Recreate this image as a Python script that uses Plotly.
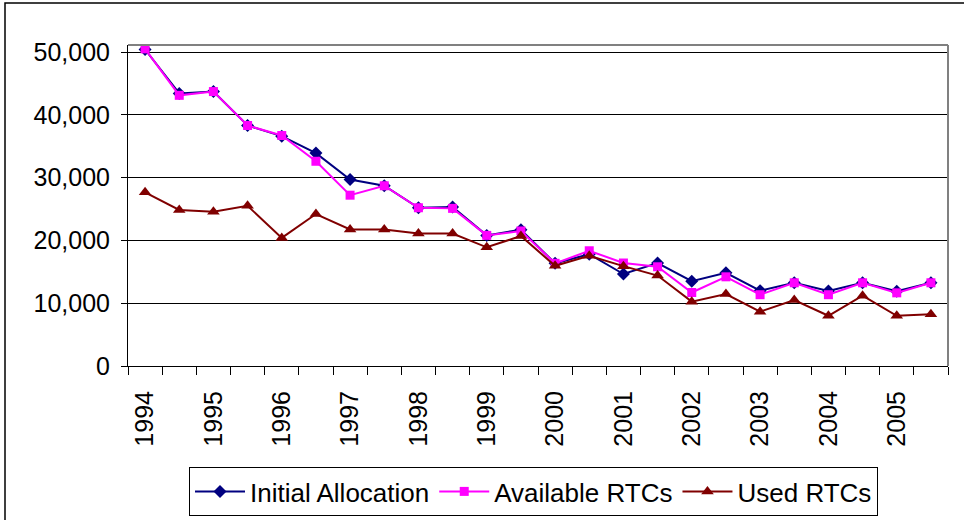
import plotly.graph_objects as go

# Half-year periods 1994 .. 2005 (two points per year)
periods = list(range(24))
year_labels = ["1994", "1995", "1996", "1997", "1998", "1999",
               "2000", "2001", "2002", "2003", "2004", "2005"]

initial_allocation = [50400, 43400, 43700, 38300, 36600, 33900, 29700, 28700,
                      25200, 25300, 20800, 21700, 16350, 17800, 14650, 16400,
                      13500, 14850, 12000, 13250, 11950, 13250, 11900, 13250]
available_rtcs = [50500, 43100, 43700, 38300, 36700, 32600, 27200, 28700,
                  25200, 25100, 20800, 21500, 16350, 18350, 16400, 15800,
                  11700, 14200, 11350, 13250, 11350, 13250, 11650, 13250]
used_rtcs = [27650, 24850, 24550, 25500, 20400, 24200, 21750, 21750,
             21100, 21100, 18900, 20700, 15950, 17550, 15900, 14400,
             10250, 11450, 8650, 10500, 8000, 11200, 8000, 8250]

y_ticks = [0, 10000, 20000, 30000, 40000, 50000]
y_tick_text = ["0", "10,000", "20,000", "30,000", "40,000", "50,000"]

FONT = "Liberation Sans, Arial, sans-serif"

fig = go.Figure()
fig.add_trace(go.Scatter(
    x=periods, y=initial_allocation, name="Initial Allocation",
    mode="lines+markers",
    line=dict(color="#000080", width=2),
    marker=dict(symbol="diamond", size=10, color="#000080"),
))
fig.add_trace(go.Scatter(
    x=periods, y=available_rtcs, name="Available RTCs",
    mode="lines+markers",
    line=dict(color="#FF00FF", width=2),
    marker=dict(symbol="square", size=9, color="#FF00FF"),
))
fig.add_trace(go.Scatter(
    x=periods, y=used_rtcs, name="Used RTCs",
    mode="lines+markers",
    line=dict(color="#800000", width=2),
    marker=dict(symbol="triangle-up", size=11, color="#800000"),
))

L, R, T, B = 128, 948, 45, 366
W, H = 964, 520
pw, ph = R - L, B - T

def px_x(px):
    return (px - L) / pw

def px_y(py):
    return (B - py) / ph

fig.update_layout(
    width=W, height=H,
    margin=dict(l=L, r=W - R, t=T, b=H - B, pad=0),
    paper_bgcolor="white", plot_bgcolor="white",
    font=dict(family=FONT, color="black", size=24),
    showlegend=True,
    legend=dict(
        orientation="h",
        xref="container", yref="container",
        x=189 / W, xanchor="left",
        y=1 - 467 / H, yanchor="top",
        bordercolor="black", borderwidth=1,
        font=dict(size=26, family=FONT),
        bgcolor="white",
        itemwidth=50,
    ),
    xaxis=dict(
        range=[-0.5, 23.5],
        automargin=False,
        tickmode="array",
        tickvals=[2 * i for i in range(len(year_labels))],
        ticktext=year_labels,
        tickangle=-90,
        ticks="",
        ticklabelstandoff=14,
        showgrid=False,
        zeroline=False,
        showline=True, linecolor="black", linewidth=1,
        tickfont=dict(size=25, family=FONT),
        minor=dict(tick0=-0.5, dtick=1, ticks="outside", ticklen=8,
                   tickcolor="black", tickwidth=1, showgrid=False),
    ),
    yaxis=dict(
        range=[0, 51115],
        automargin=False,
        tickmode="array",
        tickvals=y_ticks,
        ticktext=y_tick_text,
        ticks="outside", ticklen=6, tickcolor="black",
        ticklabelstandoff=6,
        showgrid=True, gridcolor="black", gridwidth=1,
        zeroline=False,
        showline=True, linecolor="black", linewidth=1,
        tickfont=dict(size=25, family=FONT),
    ),
    shapes=[
        # plot-area border (top and right, gray)
        dict(type="line", xref="paper", yref="paper", x0=0, x1=1, y0=1, y1=1,
             line=dict(color="#808080", width=2)),
        dict(type="line", xref="paper", yref="paper", x0=1, x1=1, y0=0, y1=1,
             line=dict(color="#808080", width=2)),
        # chart-area border
        dict(type="rect", xref="paper", yref="paper",
             x0=px_x(5), x1=px_x(975), y0=px_y(3), y1=px_y(530),
             line=dict(color="black", width=1.5), layer="above"),
    ],
)

fig.write_html(
    "out.html",
    config={"displayModeBar": False},
    post_script="document.body.style.margin='0';document.body.style.overflow='hidden';",
)
